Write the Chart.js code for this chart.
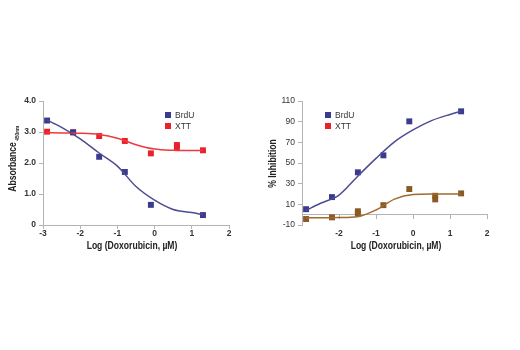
<!DOCTYPE html>
<html>
<head>
<meta charset="utf-8">
<title>Doxorubicin dose response</title>
<script src="https://cdn.jsdelivr.net/npm/chart.js@4.4.1/dist/chart.umd.min.js"></script>
<style>
  html, body { margin: 0; padding: 0; background: #fff; }
  body { width: 520px; height: 350px; position: relative; overflow: hidden; font-family: "Liberation Sans", Arial, sans-serif; }
  .panel { position: absolute; top: 90px; height: 170px; }
  .legend { position: absolute; font: 8.5px "Liberation Sans", Arial, sans-serif; color: #333; line-height: 11px; }
  .legend div { position: relative; padding-left: 10px; white-space: nowrap; }
  .legend span { position: absolute; left: 0; top: 2px; width: 6px; height: 6px; }
</style>
</head>
<body>
  <div class="panel" style="left:0;width:245px"><canvas id="absChart"></canvas></div>
  <div class="panel" style="left:255px;width:245px"><canvas id="inhChart"></canvas></div>

  <div class="legend" style="left:165px;top:110px">
    <div><span style="background:#3b3a8f"></span>BrdU</div>
    <div><span style="background:#e8222a"></span>XTT</div>
  </div>
  <div class="legend" style="left:325px;top:110px">
    <div><span style="background:#3b3a8f"></span>BrdU</div>
    <div><span style="background:#e8222a"></span>XTT</div>
  </div>

<script>
// Measured points (log of doxorubicin concentration, uM)
const absBrdUDose = [-2.89, -2.19, -1.49, -0.80, -0.10, 1.30];
const absBrdU     = [3.37, 2.99, 2.20, 1.71, 0.65, 0.32];
const absXttDose  = [-2.89, -2.19, -1.49, -0.80, -0.10, 0.60, 0.60, 1.30];
const absXtt      = [3.01, 2.99, 2.87, 2.71, 2.31, 2.58, 2.50, 2.41];

const inhBrdUDose = [-2.89, -2.19, -1.49, -0.80, -0.10, 1.30];
const inhBrdU     = [5.3, 17, 41, 57.4, 90.3, 100];
const inhXttDose  = [-2.89, -2.19, -1.49, -1.49, -0.80, -0.10, 0.60, 0.60, 1.30];
const inhXtt      = [-4.2, -2.6, 3.3, 1.2, 9.2, 24.8, 18.3, 14.8, 20.6];

// Fitted curves
const fitDose    = [-2.9, -2.5, -2.0, -1.5, -1.0, -0.5, 0, 0.5, 1.0, 1.3];
const absBrdUFit = [3.39, 3.15, 2.78, 2.33, 1.90, 1.24, 0.80, 0.50, 0.40, 0.33];
const absXttFit  = [2.98, 2.97, 2.96, 2.92, 2.80, 2.59, 2.45, 2.41, 2.40, 2.40];
const inhBrdUFit = [4, 11, 19, 37, 54.5, 70.5, 82, 91, 97, 100];
const inhXttFit  = [-3, -3, -2.8, -2, 4.5, 15, 19.5, 20, 20, 20];

// Axis ticks
const absTicks = [0, 1, 2, 3, 4];
const inhTicks = [-10, 10, 30, 50, 70, 90, 110];
const doseTicks = [-3, -2, -1, 0, 1, 2];

const NAVY = '#3b3a8f';
const NAVY_LINE = '#4d4c92';
const RED = '#e8222a';
const RED_LINE = '#f0393e';
const BROWN = '#8a5a24';
const BROWN_LINE = '#a0692e';
const AXIS = '#b4b4b4';
const FAMILY = '"Liberation Sans", Arial, sans-serif';
const boldTicks = { family: FAMILY, size: 8.5, weight: 'bold' };
const plainTicks = { family: FAMILY, size: 8.5, weight: 'normal' };

const pts = (xs, ys) => xs.map((x, i) => ({ x, y: ys[i] }));

function markers(label, xs, ys, color) {
  return {
    label, data: pts(xs, ys), showLine: false,
    pointStyle: 'rect', pointRadius: 4.2, pointHoverRadius: 4.2,
    backgroundColor: color, borderColor: color, borderWidth: 0
  };
}

function fitLine(ys, color) {
  return {
    data: pts(fitDose, ys), showLine: true, pointRadius: 0,
    borderColor: color, borderWidth: 1.5, cubicInterpolationMode: 'monotone'
  };
}

function xScale(extra) {
  return Object.assign({
    type: 'linear', min: -3, max: 2,
    afterBuildTicks: s => { s.ticks = doseTicks.map(v => ({ value: v })); },
    border: { color: AXIS, width: 1 },
    grid: { drawOnChartArea: false, color: AXIS, tickLength: 4 },
    title: { display: false }
  }, extra);
}

function yScale(min, max, ticks, fmt, width, font) {
  return {
    min, max,
    afterBuildTicks: s => { s.ticks = ticks.map(v => ({ value: v })); },
    afterFit: s => { s.width = width; },
    border: { color: AXIS, width: 1 },
    grid: { drawOnChartArea: false, color: AXIS, tickLength: 4 },
    ticks: { font, color: '#333', padding: 3, callback: fmt },
    title: { display: false }
  };
}

// Axis titles in a condensed bold face (canvas has no condensed font installed,
// so the text is squeezed horizontally). Positions are canvas pixels.
const axisTitles = {
  id: 'axisTitles',
  afterDraw(chart, args, opts) {
    const ctx = chart.ctx;
    const draw = (t, rotated) => {
      ctx.save();
      ctx.translate(t.cx, t.cy);
      if (rotated) ctx.rotate(-Math.PI / 2);
      ctx.scale(0.78, 1);
      ctx.fillStyle = '#222';
      ctx.textAlign = 'center';
      ctx.textBaseline = 'middle';
      ctx.font = 'bold 11px ' + FAMILY;
      ctx.fillText(t.text, 0, 0);
      if (t.sub) {
        const w = ctx.measureText(t.text).width;
        ctx.font = 'bold 6px ' + FAMILY;
        const sw = ctx.measureText(t.sub).width;
        ctx.fillText(t.sub, w / 2 + sw / 2 + 2, 4);
      }
      ctx.restore();
    };
    if (opts.x) draw(opts.x, false);
    if (opts.y) draw(opts.y, true);
  }
};

const base = {
  responsive: true,
  maintainAspectRatio: false,
  animation: false
};

new Chart(document.getElementById('absChart'), {
  type: 'scatter',
  data: {
    datasets: [
      fitLine(absBrdUFit, NAVY_LINE),
      fitLine(absXttFit, RED_LINE),
      markers('BrdU', absBrdUDose, absBrdU, NAVY),
      markers('XTT', absXttDose, absXtt, RED)
    ]
  },
  options: Object.assign({}, base, {
    layout: { padding: { top: 11, right: 16 } },
    plugins: {
      legend: { display: false }, tooltip: { enabled: false },
      axisTitles: {
        x: { text: 'Log (Doxorubicin, \u00b5M)', cx: 132, cy: 156 },
        y: { text: 'Absorbance', sub: '450nm', cx: 13, cy: 77 }
      }
    },
    scales: {
      x: xScale({
        afterFit: s => { s.height = 35; },
        ticks: { font: boldTicks, color: '#333', padding: 0, maxRotation: 0 }
      }),
      y: yScale(0, 4, absTicks, v => v === 0 ? '0' : v.toFixed(1), 43, boldTicks)
    }
  }),
  plugins: [axisTitles]
});

new Chart(document.getElementById('inhChart'), {
  type: 'scatter',
  data: {
    datasets: [
      fitLine(inhBrdUFit, NAVY_LINE),
      fitLine(inhXttFit, BROWN_LINE),
      markers('BrdU', inhBrdUDose, inhBrdU, NAVY),
      markers('XTT', inhXttDose, inhXtt, BROWN)
    ]
  },
  options: Object.assign({}, base, {
    layout: { padding: { top: 11, right: 13, bottom: 35 } },
    plugins: {
      legend: { display: false }, tooltip: { enabled: false },
      axisTitles: {
        x: { text: 'Log (Doxorubicin, \u00b5M)', cx: 141, cy: 156 },
        y: { text: '% Inhibition', cx: 18, cy: 73.5 }
      }
    },
    scales: {
      // x axis sits on the zero line, labels hang below the plot
      x: xScale({
        position: { y: 0 },
        ticks: { font: boldTicks, color: '#333', padding: 10, maxRotation: 0, callback: v => v === -3 ? '' : v }
      }),
      y: yScale(-10, 110, inhTicks, v => v, 47, plainTicks)
    }
  }),
  plugins: [axisTitles]
});
</script>
</body>
</html>
